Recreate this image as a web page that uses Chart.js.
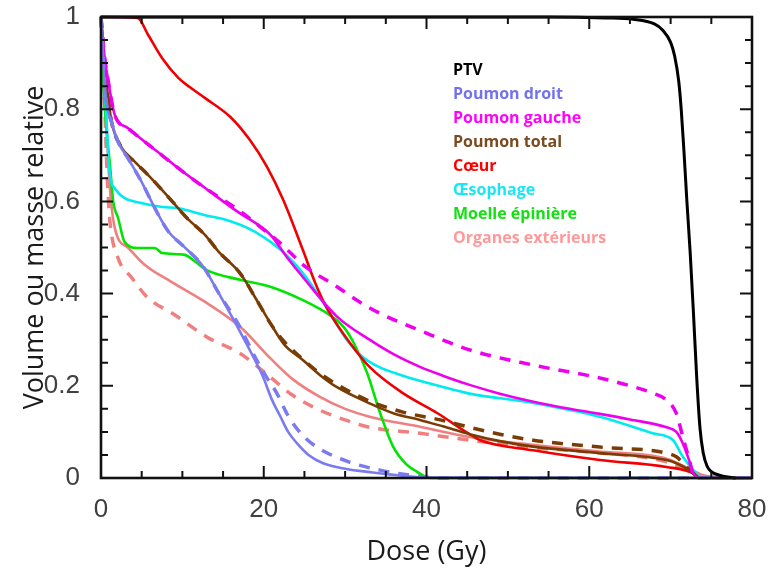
<!DOCTYPE html>
<html><head><meta charset="utf-8">
<script src="https://cdn.jsdelivr.net/npm/chart.js@4.4.0/dist/chart.umd.min.js"></script>
<style>html,body{margin:0;padding:0;background:#fff}canvas{display:block}</style>
</head><body>
<canvas id="c" width="769" height="569"></canvas>
<script>
// ---- tick labels ----
const xTickLabels = [0, 20, 40, 60, 80];
const yTickLabels = [0, 0.2, 0.4, 0.6, 0.8, 1];

// ---- legend ----
const legendLabels = ['PTV', 'Poumon droit', 'Poumon gauche', 'Poumon total', 'Cœur', 'Œsophage', 'Moelle épinière', 'Organes extérieurs'];
const legendColors = ['#000000', '#7272ee', '#ff00ff', '#7b4a1e', '#ff0000', '#19e6f5', '#11e011', '#ff9999'];

// ---- series: [dose (Gy), relative volume] ----
const ptv = [[0,1],[55,1],[62,0.998],[65.4,0.995],[68,0.985],[69,0.972],[70,0.945],[70.5,0.915],[71,0.86],[71.3,0.8],[71.6,0.72],[72,0.6],[72.4,0.49],[72.8,0.36],[73.2,0.22],[73.6,0.11],[74,0.055],[74.5,0.025],[75,0.014],[76,0.006],[77,0.002],[78,0]];

const droitSolid = [[0,1],[0.3,0.9],[0.6,0.823],[1.3,0.772],[2.1,0.729],[3.3,0.694],[5,0.642],[6.6,0.586],[8.3,0.534],[10,0.505],[12.5,0.46],[14.5,0.4],[16.7,0.33],[18.5,0.27],[19.9,0.22],[21,0.17],[22,0.135],[23,0.1],[24.1,0.075],[25.5,0.05],[27.3,0.032],[30,0.02],[33.4,0.012],[37,0.005],[40,0.001],[80,0]];
const droitDash = [[0,1],[0.3,0.9],[0.6,0.823],[1.3,0.772],[2.1,0.729],[3.3,0.694],[5,0.642],[6.6,0.586],[8.3,0.534],[10,0.505],[12.5,0.46],[14.5,0.4],[17,0.33],[19,0.26],[20.3,0.22],[21.6,0.184],[23,0.135],[24.8,0.092],[27,0.062],[30.6,0.034],[34.3,0.017],[38,0.006],[42,0],[80,0]];

const gaucheSolid = [[0,1],[0.4,0.92],[0.9,0.86],[1.7,0.787],[3.3,0.759],[5.4,0.729],[7.5,0.7],[9.5,0.672],[12.8,0.629],[17,0.575],[19,0.553],[20.8,0.528],[22.8,0.48],[24.8,0.436],[29,0.35],[33,0.3],[36,0.268],[39.2,0.241],[42,0.222],[45.3,0.202],[49,0.183],[53,0.166],[57,0.152],[61,0.14],[65,0.127],[69.5,0.11],[70.7,0.1],[71.5,0.075],[72.4,0.032],[72.8,0.01],[73.5,0],[80,0]];
const gaucheDash = [[0,1],[0.4,0.92],[0.9,0.86],[1.7,0.787],[3.3,0.759],[5.4,0.729],[7.5,0.7],[9.5,0.672],[12.8,0.629],[17,0.58],[19.9,0.54],[22,0.51],[25,0.46],[29,0.415],[31.5,0.385],[34.3,0.357],[39.2,0.32],[45.3,0.278],[53.1,0.245],[61.3,0.217],[65,0.2],[67.8,0.184],[69.5,0.169],[70.7,0.14],[71.5,0.089],[72.4,0.032],[72.8,0.005],[73.5,0]];

const totalSolid = [[0,1],[0.4,0.9],[0.9,0.823],[1.3,0.772],[2.6,0.715],[4.2,0.685],[5.8,0.657],[7.5,0.625],[9,0.595],[10.5,0.565],[12.8,0.527],[14.5,0.49],[17.1,0.444],[19,0.39],[20.8,0.336],[22.5,0.29],[24.8,0.256],[27,0.222],[29,0.197],[33,0.162],[36,0.14],[39.2,0.126],[42,0.112],[45.3,0.095],[49,0.08],[53.1,0.068],[61.3,0.054],[69.5,0.039],[70.7,0.032],[72,0.02],[72.8,0.01],[73.5,0]];
const totalDash = [[0,1],[0.4,0.9],[0.9,0.823],[1.3,0.772],[2.6,0.715],[4.2,0.685],[5.8,0.657],[7.5,0.625],[9,0.595],[10.5,0.565],[12.8,0.527],[14.5,0.49],[17.1,0.444],[19,0.39],[20.8,0.336],[22,0.306],[24.5,0.262],[26.9,0.227],[30.6,0.187],[33.4,0.164],[37.1,0.143],[41.7,0.126],[45.3,0.11],[49,0.095],[53.1,0.082],[61.3,0.067],[69.5,0.054],[70.7,0.046],[72.2,0.02],[72.8,0.01],[73.5,0]];

const coeur = [[0,1],[4.5,0.998],[5.8,0.961],[7.5,0.911],[9.5,0.868],[10.9,0.848],[12.8,0.824],[15.9,0.783],[18.3,0.733],[20.4,0.675],[22.4,0.603],[24.8,0.495],[26.4,0.42],[27.9,0.364],[30.6,0.293],[33,0.241],[37.1,0.184],[41.3,0.141],[45.3,0.095],[46.6,0.082],[53.1,0.06],[61.3,0.039],[69.5,0.024],[72.8,0.01],[73.5,0],[80,0]];

const oesophage = [[0,1],[0.3,0.93],[0.6,0.8],[1.1,0.657],[1.7,0.628],[2.9,0.607],[4.5,0.598],[7.5,0.588],[9.5,0.585],[12.8,0.57],[15,0.562],[18.3,0.54],[21,0.51],[23,0.48],[25,0.44],[27.9,0.364],[30,0.305],[31.8,0.268],[34,0.242],[37.1,0.222],[41.7,0.199],[45.3,0.183],[53.1,0.163],[61.3,0.133],[67.8,0.097],[70.3,0.082],[71.5,0.046],[72.8,0.017],[73.6,0.003],[76,0],[80,0]];

const moelle = [[0,1],[0.3,0.85],[0.7,0.75],[1.1,0.68],[1.5,0.6],[2.1,0.564],[2.9,0.512],[4.5,0.499],[6.6,0.499],[7.5,0.488],[10.3,0.484],[11.6,0.469],[13,0.451],[17.1,0.43],[20.8,0.415],[24.8,0.386],[27.8,0.357],[29.8,0.328],[31,0.295],[32.7,0.228],[34.3,0.141],[35.9,0.068],[37.5,0.03],[38.8,0.014],[39.6,0.005],[40.5,0],[80,0]];

const exterieursSolid = [[0,1],[0.2,0.93],[0.5,0.86],[0.9,0.68],[1.7,0.542],[3.3,0.5],[5.4,0.462],[8.7,0.425],[12.8,0.382],[17.1,0.328],[20.8,0.26],[23.5,0.215],[26.9,0.176],[30,0.15],[33,0.133],[39.2,0.111],[45.3,0.089],[53,0.072],[61,0.058],[69.5,0.042],[72.5,0.018],[74,0.006],[76,0.002],[80,0]];
const exterieursDash = [[0,1],[0.15,0.92],[0.5,0.787],[0.7,0.68],[0.9,0.607],[1.1,0.555],[2.1,0.477],[3.8,0.434],[5.8,0.39],[8.8,0.357],[13,0.306],[17.1,0.27],[20.8,0.219],[23.5,0.18],[26.9,0.147],[30,0.126],[33,0.11],[39.2,0.097],[45.3,0.082],[53,0.066],[61,0.055],[69.5,0.035],[72.5,0.012],[74,0.003],[80,0]];

// ---- build datasets ----
function ds(label, pts, color, dashed, width) {
  return {
    label: label,
    data: pts.map(p => ({x: p[0], y: p[1]})),
    borderColor: color,
    backgroundColor: color,
    borderWidth: width || (dashed ? 3.5 : 2.6),
    borderDash: dashed ? [11, 9] : [],
    pointRadius: 0,
    fill: false,
    cubicInterpolationMode: 'monotone',
    clip: 3
  };
}
const datasets = [
  ds('PTV', ptv, '#000000', false, 3),
  ds('Poumon droit', droitSolid, '#7b7bef', false),
  ds('Poumon droit (tirets)', droitDash, '#7b7bef', true),
  ds('Poumon gauche', gaucheSolid, '#ee00ee', false),
  ds('Poumon gauche (tirets)', gaucheDash, '#ee00ee', true),
  ds('Poumon total', totalSolid, '#7a3c05', false),
  ds('Poumon total (tirets)', totalDash, '#7a3c05', true),
  ds('Cœur', coeur, '#f00000', false),
  ds('Œsophage', oesophage, '#00eaf0', false),
  ds('Moelle épinière', moelle, '#00e400', false),
  ds('Organes extérieurs', exterieursSolid, '#f08080', false),
  ds('Organes extérieurs (tirets)', exterieursDash, '#f08080', true)
];

const isMajor = (v, list) => list.some(t => Math.abs(t - v) < 1e-6);

const framePlugin = {
  id: 'frame',
  afterDatasetsDraw(chart) {
    const {ctx, chartArea: a, scales: {x, y}} = chart;
    ctx.save();
    ctx.strokeStyle = '#111';
    ctx.lineWidth = 2;
    ctx.beginPath();
    x.ticks.forEach(t => {
      const px = x.getPixelForValue(t.value);
      const L = isMajor(t.value, xTickLabels) ? 12 : 7;
      ctx.moveTo(px, a.bottom); ctx.lineTo(px, a.bottom - L);
      ctx.moveTo(px, a.top); ctx.lineTo(px, a.top + L);
    });
    y.ticks.forEach(t => {
      const py = y.getPixelForValue(t.value);
      const L = isMajor(t.value, yTickLabels) ? 12 : 7;
      ctx.moveTo(a.left, py); ctx.lineTo(a.left + L, py);
      ctx.moveTo(a.right, py); ctx.lineTo(a.right - L, py);
    });
    ctx.stroke();
    ctx.lineWidth = 2.6;
    ctx.strokeRect(a.left, a.top, a.right - a.left, a.bottom - a.top);
    // legend text
    ctx.font = 'bold 16px "Open Sans"';
    ctx.textAlign = 'left';
    ctx.textBaseline = 'middle';
    legendLabels.forEach((lab, i) => {
      ctx.fillStyle = legendColors[i];
      ctx.fillText(lab, 453, 70 + i * 24);
    });
    ctx.restore();
  }
};

new Chart(document.getElementById('c'), {
  type: 'line',
  data: {datasets},
  options: {
    responsive: false,
    animation: false,
    devicePixelRatio: 1,
    layout: {padding: {left: 0, right: 17, top: 17, bottom: 0}},
    plugins: {legend: {display: false}, tooltip: {enabled: false}},
    scales: {
      x: {
        type: 'linear', min: 0, max: 80,
        grid: {display: false}, border: {display: false},
        ticks: {
          stepSize: 5, autoSkip: false, maxRotation: 0, padding: 8,
          color: '#404040', font: {family: '"Liberation Sans", Arial', size: 26},
          callback: v => isMajor(v, xTickLabels) ? String(Math.round(v)) : ''
        },
        title: {display: true, text: 'Dose (Gy)', color: '#1a1a1a',
          font: {family: '"Open Sans"', size: 27}, padding: {top: 0, bottom: 0}},
        afterFit(s) { s.height = 91; s.paddingLeft = 0; s.paddingRight = 0; }
      },
      y: {
        type: 'linear', min: 0, max: 1,
        grid: {display: false}, border: {display: false},
        ticks: {
          stepSize: 0.05, autoSkip: false, padding: 13,
          color: '#404040', font: {family: '"Liberation Sans", Arial', size: 26},
          callback: v => isMajor(v, yTickLabels) ? String(Math.round(v * 10) / 10) : ''
        },
        title: {display: true, text: 'Volume ou masse relative', color: '#1a1a1a',
          font: {family: '"Open Sans"', size: 27}, padding: {top: 19, bottom: 0}},
        afterFit(s) { s.width = 101; s.paddingTop = 0; s.paddingBottom = 0; }
      }
    }
  },
  plugins: [framePlugin]
});
</script>
</body></html>
